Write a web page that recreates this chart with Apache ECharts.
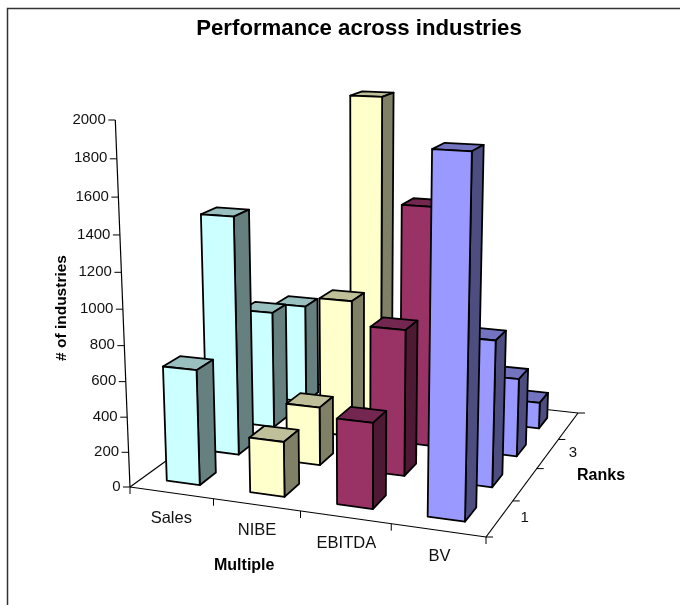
<!DOCTYPE html>
<html>
<head>
<meta charset="utf-8">
<style>html,body{margin:0;padding:0;background:#fff}#chart{width:680px;height:605px}</style>
<script src="https://cdn.jsdelivr.net/npm/echarts@6/dist/echarts.min.js"></script>
</head>
<body>
<div id="chart"></div>
<script>
// Number of industries per multiple, one value per rank (1 to 4)
const multiples = ['Sales', 'NIBE', 'EBITDA', 'BV'];
const salesCounts = [655, 1390, 710, 620];
const nibeCounts = [310, 340, 825, 1940];
const ebitdaCounts = [475, 835, 1410, 620];
const bvCounts = [1910, 825, 460, 160];
const rankLabels = ['1', '', '3', ''];
const valueTicks = [0, 200, 400, 600, 800, 1000, 1200, 1400, 1600, 1800, 2000];

const allCounts = [salesCounts, nibeCounts, ebitdaCounts, bvCounts];
const frontFill = ['#CCFFFF', '#FFFFCC', '#993366', '#9999FF'];
const topFill = ['#99BFBF', '#BFBF99', '#732650', '#7373BF'];
const sideFill = ['#668080', '#808066', '#4D1933', '#4D4D80'];

// Perspective camera: floor corners and the vertical axis on screen
const floor = { a: [130, 487], b: [486, 537], c: [578, 413], d: [278, 380] };
const axisTop = [115.3, 120];
const axisMidY = 309.2;

function floorHomography(f) {
  const [x0, y0] = f.a, [x1, y1] = f.b, [x2, y2] = f.c, [x3, y3] = f.d;
  const dx1 = x1 - x2, dx2 = x3 - x2, sx = x0 - x1 + x2 - x3;
  const dy1 = y1 - y2, dy2 = y3 - y2, sy = y0 - y1 + y2 - y3;
  const den = dx1 * dy2 - dx2 * dy1;
  const g = (sx * dy2 - dx2 * sy) / den;
  const h = (dx1 * sy - sx * dy1) / den;
  return { ux: x1 - x0 + g * x1, uy: y1 - y0 + g * y1, uw: g,
           dx: x3 - x0 + h * x3, dy: y3 - y0 + h * y3, dw: h,
           tx: x0, ty: y0 };
}
const cam = floorHomography(floor);
cam.vw = (2 * axisMidY - floor.a[1] - axisTop[1]) / (axisTop[1] - axisMidY);
cam.vx = axisTop[0] * (1 + cam.vw) - floor.a[0];
cam.vy = axisTop[1] * (1 + cam.vw) - floor.a[1];

// u and d are fractions of the floor, h a fraction of the value axis
function project(u, h, d) {
  const w = cam.uw * u + cam.dw * d + cam.vw * h + 1;
  return [(cam.ux * u + cam.dx * d + cam.vx * h + cam.tx) / w,
          (cam.uy * u + cam.dy * d + cam.vy * h + cam.ty) / w];
}

// Runs the axis scales, then the camera: position in cells, height in data units
function makeProjector(params, api) {
  const r = params.coordSys;
  return function (cell, value, depth) {
    const pU = api.coord([cell, value]);
    const pD = api.coord([depth, 0]);
    return project((pU[0] - r.x) / r.width,
                   (r.y + r.height - pU[1]) / r.height,
                   (pD[0] - r.x) / r.width);
  };
}

const edge = { stroke: '#000', lineWidth: 1.8, lineJoin: 'round' };

function line(p, q, width) {
  return { type: 'line', silent: true,
    shape: { x1: p[0], y1: p[1], x2: q[0], y2: q[1] },
    style: { stroke: '#000', lineWidth: width || 1 } };
}
function label(text, p, font, align) {
  return { type: 'text', silent: true,
    style: { text: text, x: p[0], y: p[1], fill: '#111', font: font,
             align: align || 'center', verticalAlign: 'middle' } };
}
function face(points, fill) {
  return { type: 'polygon', silent: true, shape: { points: points },
    style: Object.assign({ fill: fill }, edge) };
}

const tickFont = '15px "Liberation Sans", Arial, sans-serif';
const catFont = '16.5px "Liberation Sans", Arial, sans-serif';

function renderAxes(params, api) {
  if (params.dataIndex !== 0) return;
  const at = makeProjector(params, api);
  const n = multiples.length, m = rankLabels.length;
  const kids = [];
  const A = at(0, 0, 0), B = at(n, 0, 0), C = at(n, 0, m), D = at(0, 0, m);
  kids.push(line(A, B, 1.2), line(B, C, 1.2), line(C, D, 1.2), line(D, A, 1.2));
  kids.push(line(A, at(0, 2000, 0), 1.2));
  valueTicks.forEach(function (v) {
    const p = at(0, v, 0);
    kids.push(line(p, [p[0] - 7, p[1]]));
    kids.push(label(String(v), [p[0] - 9.5, p[1] - 0.5], tickFont, 'right'));
  });
  for (let i = 0; i <= n; i++) {
    const p = at(i, 0, 0);
    kids.push(line(p, [p[0], p[1] + 7]));
  }
  for (let j = 0; j <= m; j++) {
    const p = at(n, 0, j);
    kids.push(line(p, [p[0] + 7, p[1]]));
  }
  multiples.forEach(function (name, i) {
    const p = at(i + 0.5, 0, 0);
    kids.push(label(name, [p[0] + 0.5 * i, p[1] + 26], catFont));
  });
  rankLabels.forEach(function (name, j) {
    if (!name) return;
    const p = at(n, 0, j + 0.5);
    kids.push(label(name, [p[0] + 25, p[1] - 0.5], tickFont));
  });
  return { type: 'group', children: kids };
}

function renderBar(params, api) {
  const at = makeProjector(params, api);
  const cat = api.value(0), rank = api.value(1), v = api.value(2);
  const u0 = cat + 0.29, u1 = cat + 0.69;
  const d0 = rank + 0.3, d1 = rank + 0.7;
  return { type: 'group', children: [
    face([at(u0, v, d0), at(u1, v, d0), at(u1, v, d1), at(u0, v, d1)], topFill[cat]),
    face([at(u1, 0, d0), at(u1, 0, d1), at(u1, v, d1), at(u1, v, d0)], sideFill[cat]),
    face([at(u0, 0, d0), at(u1, 0, d0), at(u1, v, d0), at(u0, v, d0)], frontFill[cat])
  ] };
}

// Painted from the back rank forward, left to right within a rank
const barData = [];
for (let r = rankLabels.length - 1; r >= 0; r--) {
  multiples.forEach(function (_, c) { barData.push([c, r, allCounts[c][r]]); });
}

const chart = echarts.init(document.getElementById('chart'), null, { renderer: 'canvas' });
chart.setOption({
  animation: false,
  backgroundColor: '#fff',
  title: {
    text: 'Performance across industries', left: 354, top: 13, textAlign: 'center',
    textStyle: { fontFamily: '"Liberation Sans", Arial, sans-serif', fontWeight: 'bold', fontSize: 22.2, color: '#000' }
  },
  grid: { left: 0, top: 0, width: 680, height: 605 },
  xAxis: { type: 'value', min: 0, max: multiples.length, show: false },
  yAxis: { type: 'value', min: 0, max: 2000, interval: 200, show: false },
  graphic: [
    { type: 'polyline', silent: true, shape: { points: [[7.5, 610], [7.5, 8.5], [690, 8.5]] },
      style: { stroke: '#333', lineWidth: 1.5, fill: 'none' } },
    { type: 'text', silent: true, left: 214, top: 558,
      style: { text: 'Multiple', font: 'bold 16px "Liberation Sans", Arial, sans-serif', fill: '#000' } },
    { type: 'text', silent: true, left: 577, top: 468,
      style: { text: 'Ranks', font: 'bold 16px "Liberation Sans", Arial, sans-serif', fill: '#000' } },
    { type: 'text', silent: true, x: 62, y: 308, rotation: Math.PI / 2,
      style: { text: '# of industries', font: 'bold 15.5px "Liberation Sans", Arial, sans-serif', fill: '#000',
               align: 'center', verticalAlign: 'middle' } }
  ],
  series: [
    { type: 'custom', name: 'Axes', coordinateSystem: 'cartesian2d', silent: true, clip: false,
      renderItem: renderAxes, data: [[0, 0]], z: 1 },
    { type: 'custom', name: 'Industries', coordinateSystem: 'cartesian2d', silent: true, clip: false,
      encode: { x: 0, y: 2 }, renderItem: renderBar, data: barData, z: 2 }
  ]
});
</script>
</body>
</html>
